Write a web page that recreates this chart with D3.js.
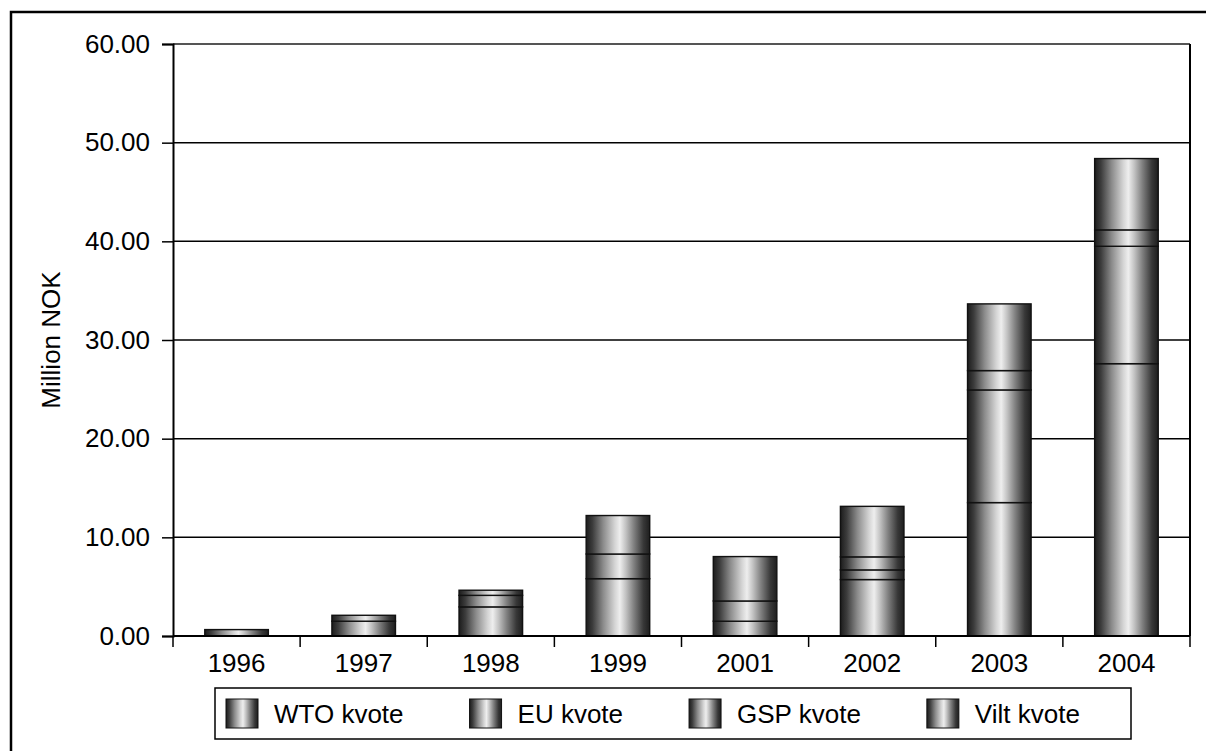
<!DOCTYPE html>
<html>
<head>
<meta charset="utf-8">
<script src="https://cdn.jsdelivr.net/npm/d3@7"></script>
<style>
  body { margin: 0; background: #fff; }
  text { font-family: "Liberation Sans", Arial, sans-serif; fill: #000; }
</style>
</head>
<body>
<div id="app"></div>
<script>
'use strict'

const years = ['1996', '1997', '1998', '1999', '2001', '2002', '2003', '2004'];
const wto = [0.65, 1.50, 2.95, 5.81, 1.50, 5.72, 13.52, 27.60];
const eu = [0.00, 0.60, 1.17, 2.50, 2.05, 0.98, 11.42, 11.90];
const gsp = [0.00, 0.00, 0.52, 3.90, 4.50, 1.32, 1.96, 1.66];
const vilt = [0.00, 0.00, 0.00, 0.00, 0.00, 5.12, 6.76, 7.23];
const seriesNames = ['WTO kvote', 'EU kvote', 'GSP kvote', 'Vilt kvote'];
const yTicks = [0, 10, 20, 30, 40, 50, 60];

const width = 1206;
const height = 751;
const plot = {left: 173, right: 1190, top: 44, bottom: 636};

let svg = (
  d3.select('#app')
    .append('svg')
    .attr('width', width)
    .attr('height', height));

// cylinder-like shading used by every bar and legend key
let grad = (svg.append('defs')
  .append('linearGradient')
    .attr('id', 'cyl')
    .attr('x1', '0%').attr('x2', '100%')
    .attr('y1', '0%').attr('y2', '0%'));
[[0, '#1c1c1c'], [0.1, '#3c3c3c'], [0.27, '#8c8c8c'], [0.45, '#d4d4d4'],
 [0.53, '#eeeeee'], [0.62, '#c4c4c4'], [0.75, '#808080'], [0.9, '#383838'],
 [1, '#1e1e1e']].forEach(([o, c]) => {
  grad.append('stop').attr('offset', o).attr('stop-color', c);
});

// outer frame (right and bottom edges fall outside the picture)
(svg.append('rect')
  .attr('x', 11).attr('y', 12)
  .attr('width', 1205).attr('height', 750)
  .attr('fill', 'none')
  .attr('stroke', '#000')
  .attr('stroke-width', 2.5));

let x = (d3.scaleBand()
  .domain(years)
  .range([plot.left, plot.right])
  .paddingInner(0.5)
  .paddingOuter(0.25));

let y = (d3.scaleLinear()
  .domain([0, 60])
  .range([plot.bottom, plot.top]));

// gridlines
(svg.selectAll('line.grid')
  .data(yTicks.slice(1))
  .enter()
    .append('line')
      .attr('class', 'grid')
      .attr('x1', plot.left)
      .attr('x2', plot.right)
      .attr('y1', (d) => y(d))
      .attr('y2', (d) => y(d))
      .attr('stroke', (d) => d == 60 ? '#555' : '#000')
      .attr('stroke-width', (d) => d == 60 ? 2 : 1.5));

// right edge of plot area
(svg.append('line')
  .attr('x1', plot.right).attr('x2', plot.right)
  .attr('y1', plot.top).attr('y2', plot.bottom)
  .attr('stroke', '#000')
  .attr('stroke-width', 2));

// stacked bars
let table = years.map((yr, i) => ({year: yr, wto: wto[i], eu: eu[i], gsp: gsp[i], vilt: vilt[i]}));
let stack = d3.stack().keys(['wto', 'eu', 'gsp', 'vilt'])(table);

(svg.append('g')
  .selectAll('g')
  .data(stack)
  .enter()
    .append('g')
    .selectAll('rect')
    .data((s) => s.filter((d) => d[1] - d[0] > 0))
    .enter()
      .append('rect')
        .attr('x', (d) => x(d.data.year))
        .attr('width', x.bandwidth())
        .attr('y', (d) => y(d[1]))
        .attr('height', (d) => y(d[0]) - y(d[1]))
        .attr('fill', 'url(#cyl)')
        .attr('stroke', '#111')
        .attr('stroke-width', 1.4));

// y axis
let yAxis = (svg.append('g')
  .attr('transform', `translate(${plot.left},0)`)
  .call(d3.axisLeft(y)
    .tickValues(yTicks)
    .tickFormat(d3.format('.2f'))
    .tickSize(11)
    .tickPadding(12)));
yAxis.select('.domain').attr('stroke', '#000').attr('stroke-width', 2);
yAxis.selectAll('.tick line').attr('stroke', '#000').attr('stroke-width', 1.5);
(yAxis.selectAll('.tick text')
  .attr('font-size', '26px')
  .attr('font-family', '"Liberation Sans", Arial, sans-serif')
  .attr('fill', '#000'));

// x axis line and category separators
(svg.append('line')
  .attr('x1', plot.left).attr('x2', plot.right)
  .attr('y1', plot.bottom).attr('y2', plot.bottom)
  .attr('stroke', '#000')
  .attr('stroke-width', 2));

let bounds = years.map((yr) => x(yr) - x.step() * x.paddingInner() / 2).concat([plot.right]);
(svg.selectAll('line.xtick')
  .data(bounds)
  .enter()
    .append('line')
      .attr('class', 'xtick')
      .attr('x1', (d) => d).attr('x2', (d) => d)
      .attr('y1', plot.bottom).attr('y2', plot.bottom + 11)
      .attr('stroke', '#000')
      .attr('stroke-width', 1.5));

(svg.selectAll('text.xlabel')
  .data(years)
  .enter()
    .append('text')
      .attr('class', 'xlabel')
      .attr('x', (d) => x(d) + x.bandwidth() / 2)
      .attr('y', 672)
      .attr('text-anchor', 'middle')
      .attr('font-size', '26px')
      .text((d) => d));

// axis title
(svg.append('text')
  .attr('transform', `translate(60,${(plot.top + plot.bottom) / 2}) rotate(-90)`)
  .attr('text-anchor', 'middle')
  .attr('font-size', '26px')
  .text('Million NOK'));

// legend
let legend = svg.append('g');
(legend.append('rect')
  .attr('x', 215).attr('y', 688)
  .attr('width', 916).attr('height', 51)
  .attr('fill', '#fff')
  .attr('stroke', '#000')
  .attr('stroke-width', 1.5));

let lx = 226;
seriesNames.forEach((name) => {
  (legend.append('rect')
    .attr('x', lx).attr('y', 699)
    .attr('width', 32).attr('height', 29)
    .attr('fill', 'url(#cyl)')
    .attr('stroke', '#111')
    .attr('stroke-width', 1));
  let t = (legend.append('text')
    .attr('x', lx + 48)
    .attr('y', 723)
    .attr('font-size', '26px')
    .text(name));
  lx += 48 + t.node().getComputedTextLength() + 66;
});
</script>
</body>
</html>
